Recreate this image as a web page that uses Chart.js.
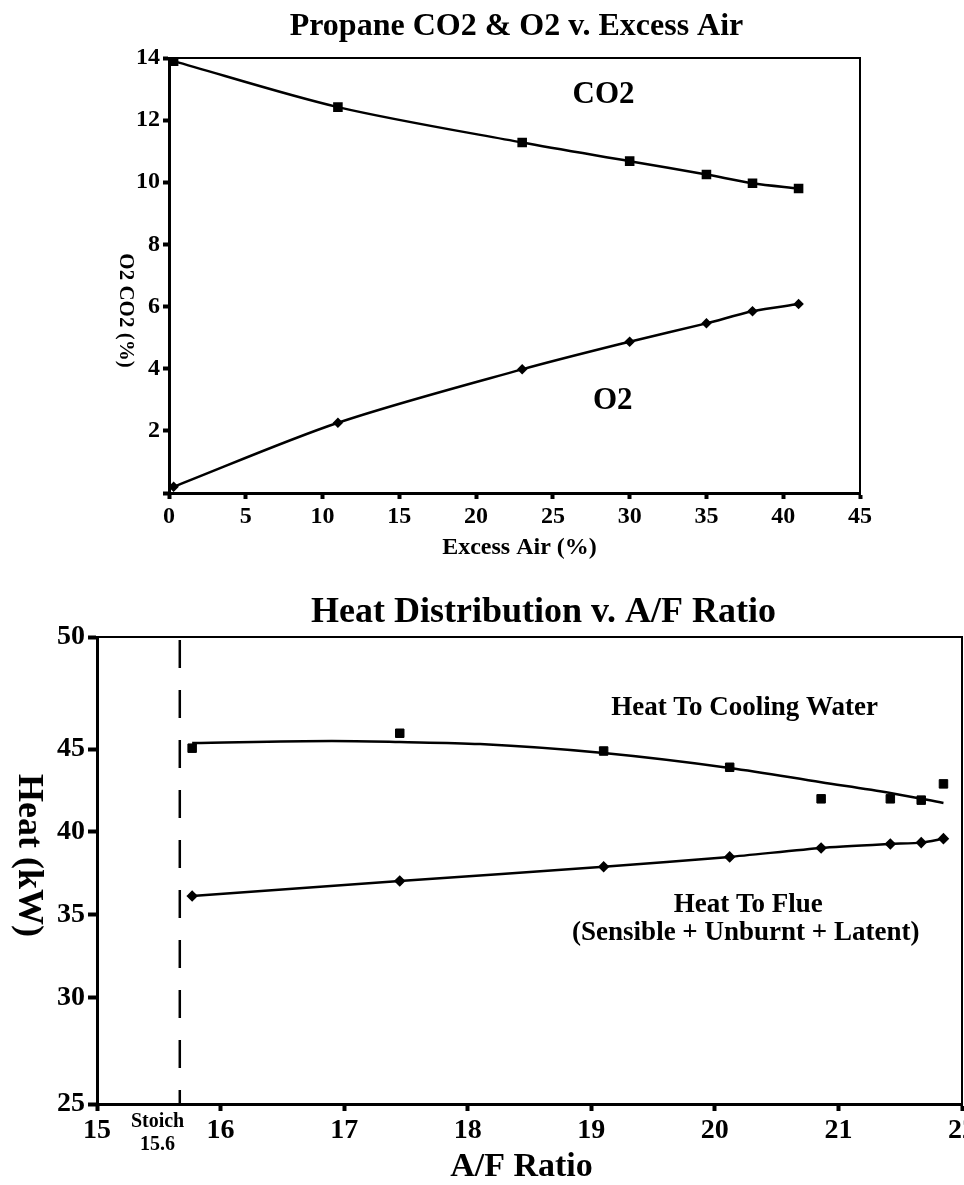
<!DOCTYPE html>
<html><head><meta charset="utf-8">
<script src="https://cdn.jsdelivr.net/npm/chart.js@4/dist/chart.umd.min.js"></script>
<style>
html,body{margin:0;padding:0;background:#fff;overflow:hidden;}
#w1{position:absolute;left:0;top:0;width:964px;height:575px;}
#w2{position:absolute;left:0;top:575px;width:964px;height:610px;}
</style></head><body>
<div id="w1"><canvas id="c1"></canvas></div>
<div id="w2"><canvas id="c2"></canvas></div>
<script>
// ---------- Chart 1: Propane CO2 & O2 v. Excess Air ----------
const excessAir = [0.3, 11, 23, 30, 35, 38, 41];
const co2Pct    = [13.9, 12.42, 11.28, 10.68, 10.25, 9.97, 9.8];
const o2Pct     = [0.2, 2.26, 3.98, 4.87, 5.46, 5.85, 6.08];
const excessTicks = [0, 5, 10, 15, 20, 25, 30, 35, 40, 45];
const pctTicks    = [0, 2, 4, 6, 8, 10, 12, 14];
const pctTickLabels = ['', '2', '4', '6', '8', '10', '12', '14'];

// ---------- Chart 2: Heat Distribution v. A/F Ratio ----------
const afRatio      = [15.77, 17.45, 19.1, 20.12, 20.86, 21.42, 21.67, 21.85];
const coolingWater = [45.05, 45.95, 44.88, 43.9, 42.0, 42.0, 41.92, 42.9];
const heatToFlue   = [36.14, 37.05, 37.9, 38.5, 39.04, 39.28, 39.36, 39.6];
const coolingFitX  = [15.77, 16.9, 17.45, 18.1, 19.1, 20.12, 20.86, 21.42, 21.85];
const coolingFitY  = [45.36, 45.48, 45.42, 45.3, 44.76, 43.86, 43.0, 42.35, 41.75];
const afTicks      = [15, 16, 17, 18, 19, 20, 21, 22];
const heatAxisMin  = 23.61;
const heatAxisMax  = 51.75;
const heatTickValues = [heatAxisMin, 30, 35, 40, 45, heatAxisMax];
const heatTickLabels = ['25', '30', '35', '40', '45', '50'];
const stoichAF = 15.67;

const SERIF = '"Liberation Serif", "Times New Roman", serif';
const f = (s) => ({ family: SERIF, size: s, weight: 'bold' });

function pts(xs, ys) { return xs.map((x, i) => ({ x: x, y: ys[i] })); }

const decor = {
  id: 'decor',
  afterDraw(chart, args, o) {
    const ctx = chart.ctx, ca = chart.chartArea;
    const sx = chart.scales.x, sy = chart.scales.y;
    ctx.save();
    ctx.strokeStyle = '#000';
    ctx.lineWidth = 2;
    ctx.beginPath();
    ctx.moveTo(ca.left, ca.top); ctx.lineTo(ca.right, ca.top); ctx.lineTo(ca.right, ca.bottom);
    ctx.stroke();
    ctx.fillStyle = '#000';
    ctx.textAlign = 'center';
    ctx.textBaseline = 'middle';
    ctx.font = 'bold ' + o.titleSize + 'px ' + SERIF;
    ctx.fillText(o.title, (ca.left + ca.right) / 2 + o.titleDx, o.titleY);
    ctx.font = 'bold ' + o.xTitleSize + 'px ' + SERIF;
    ctx.fillText(o.xTitle, (ca.left + ca.right) / 2 + o.xTitleDx, o.xTitleY);
    ctx.save();
    ctx.translate(o.yTitleX, (ca.top + ca.bottom) / 2 + o.yTitleDy);
    ctx.rotate(Math.PI / 2);
    ctx.font = 'bold ' + o.yTitleSize + 'px ' + SERIF;
    ctx.fillText(o.yTitle, 0, 0);
    ctx.restore();
    (o.labels || []).forEach(l => {
      ctx.font = 'bold ' + l.size + 'px ' + SERIF;
      const px = sx.getPixelForValue(l.x);
      const py = l.below != null ? ca.bottom + l.below : sy.getPixelForValue(l.y);
      ctx.fillText(l.text, px, py);
    });
    ctx.restore();
  }
};

function axisCommon(size, tickLen) {
  return {
    type: 'linear',
    grid: { drawOnChartArea: false, drawTicks: true, tickLength: tickLen, tickWidth: 4, tickColor: '#000' },
    border: { display: true, color: '#000', width: 3 },
    ticks: { color: '#000', font: f(size), padding: 3, maxRotation: 0, autoSkip: false }
  };
}

// ---- Chart 1 ----
const x1 = Object.assign(axisCommon(24, 6), {
  min: 0, max: 45,
  afterBuildTicks: s => { s.ticks = excessTicks.map(v => ({ value: v })); },
  afterFit: s => { s.height = 82; s.paddingLeft = 0; s.paddingRight = 0; }
});
const y1 = Object.assign(axisCommon(24, 6), {
  min: 0, max: 14,
  afterBuildTicks: s => { s.ticks = pctTicks.map(v => ({ value: v })); },
  afterFit: s => { s.width = 169; s.paddingTop = 0; s.paddingBottom = 0; }
});
y1.ticks = Object.assign({}, y1.ticks, { callback: (v, i) => pctTickLabels[i] });

new Chart(document.getElementById('c1'), {
  type: 'scatter',
  data: {
    datasets: [
      { label: 'CO2', data: pts(excessAir, co2Pct), showLine: true, tension: 0.3,
        borderColor: '#000', backgroundColor: '#000', borderWidth: 2.5, pointStyle: 'rect', pointRadius: 5 },
      { label: 'O2', data: pts(excessAir, o2Pct), showLine: true, tension: 0.3,
        borderColor: '#000', backgroundColor: '#000', borderWidth: 2.5, pointStyle: 'rectRot', pointRadius: 3.5 }
    ]
  },
  options: {
    responsive: true, maintainAspectRatio: false, animation: false, devicePixelRatio: 1,
    layout: { autoPadding: false, padding: { left: 0, top: 58, right: 104, bottom: 0 } },
    scales: { x: x1, y: y1 },
    plugins: {
      legend: { display: false }, tooltip: { enabled: false },
      decor: {
        title: 'Propane CO2 & O2 v. Excess Air', titleSize: 32, titleDx: 2, titleY: 27,
        xTitle: 'Excess Air (%)', xTitleSize: 24, xTitleDx: 5, xTitleY: 548,
        yTitle: 'O2 CO2 (%)', yTitleSize: 21, yTitleX: 125, yTitleDy: 35,
        labels: [
          { text: 'CO2', x: 28.3, y: 12.8, size: 31 },
          { text: 'O2', x: 28.9, y: 2.95, size: 31 }
        ]
      }
    }
  },
  plugins: [decor]
});

// ---- Chart 2 ----
const x2 = Object.assign(axisCommon(28, 7), {
  min: 15, max: 22,
  afterBuildTicks: s => { s.ticks = afTicks.map(v => ({ value: v })); },
  afterFit: s => { s.height = 81; s.paddingLeft = 0; s.paddingRight = 0; }
});
const y2 = Object.assign(axisCommon(28, 9), {
  min: heatAxisMin, max: heatAxisMax,
  afterBuildTicks: s => { s.ticks = heatTickValues.map(v => ({ value: v })); },
  afterFit: s => { s.width = 97; s.paddingTop = 0; s.paddingBottom = 0; }
});
y2.ticks = Object.assign({}, y2.ticks, { callback: (v, i) => heatTickLabels[i] });

new Chart(document.getElementById('c2'), {
  type: 'scatter',
  data: {
    datasets: [
      { label: 'Stoich', data: [{ x: stoichAF, y: heatAxisMax }, { x: stoichAF, y: heatAxisMin }], showLine: true,
        borderColor: '#000', borderWidth: 2.5, borderDash: [28, 22], borderDashOffset: -3, pointRadius: 0 },
      { label: 'Heat To Cooling Water', data: pts(afRatio, coolingWater), showLine: false,
        borderColor: '#000', backgroundColor: '#000', pointStyle: 'rect', pointRadius: 6 },
      { label: 'Cooling fit', data: pts(coolingFitX, coolingFitY), showLine: true, tension: 0.4, cubicInterpolationMode: 'monotone',
        borderColor: '#000', borderWidth: 2.5, pointRadius: 0 },
      { label: 'Heat To Flue', data: pts(afRatio, heatToFlue), showLine: true, tension: 0.2,
        borderColor: '#000', backgroundColor: '#000', borderWidth: 2.5, pointStyle: 'rectRot', pointRadius: 4 }
    ]
  },
  options: {
    responsive: true, maintainAspectRatio: false, animation: false, devicePixelRatio: 1,
    layout: { autoPadding: false, padding: { left: 0, top: 62, right: 2, bottom: 0 } },
    scales: { x: x2, y: y2 },
    plugins: {
      legend: { display: false }, tooltip: { enabled: false },
      decor: {
        title: 'Heat Distribution v. A/F Ratio', titleSize: 36, titleDx: 14, titleY: 38,
        xTitle: 'A/F Ratio', xTitleSize: 34, xTitleDx: -8, xTitleY: 592,
        yTitle: 'Heat (kW)', yTitleSize: 36, yTitleX: 28, yTitleDy: -15,
        labels: [
          { text: 'Heat To Cooling Water', x: 20.24, y: 47.47, size: 27 },
          { text: 'Heat To Flue', x: 20.27, y: 35.6, size: 27 },
          { text: '(Sensible + Unburnt + Latent)', x: 20.25, y: 33.9, size: 27 },
          { text: 'Stoich', x: 15.49, below: 18, size: 20 },
          { text: '15.6', x: 15.49, below: 41, size: 20 }
        ]
      }
    }
  },
  plugins: [decor]
});
</script>
</body></html>
